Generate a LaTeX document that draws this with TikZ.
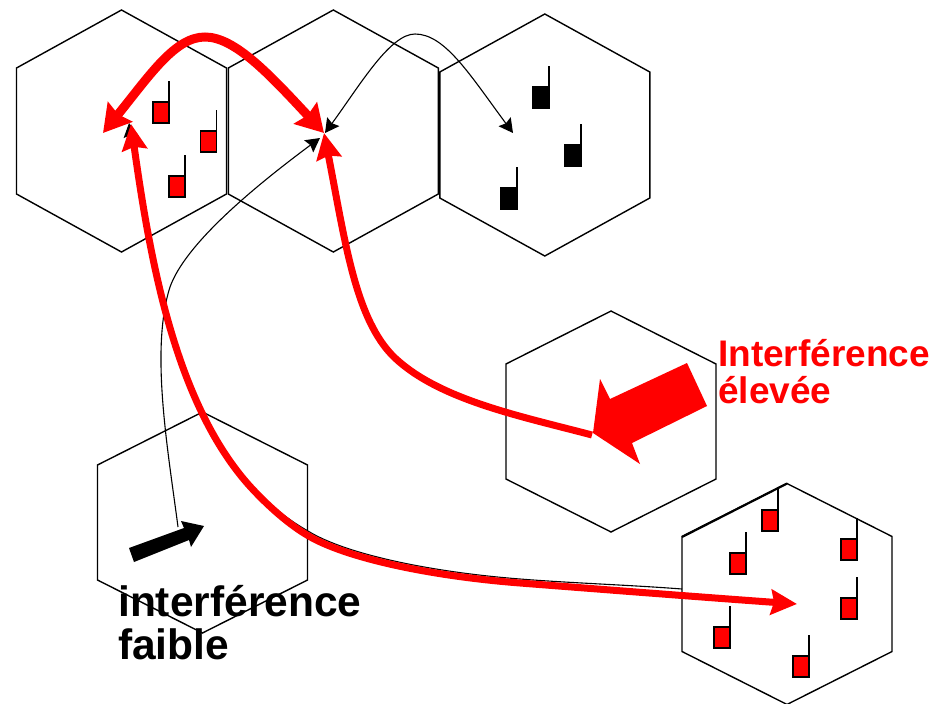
\documentclass[tikz,border=0pt]{standalone}
\usepackage{fontspec}
\setmainfont{Liberation Sans}
\usetikzlibrary{arrows.meta}
\tikzset{
  cell/.pic={\draw[line width=1.4pt,line join=miter] (0,-121) -- (105,-63) -- (105,63) -- (0,121) -- (-105,63) -- (-105,-63) -- cycle;},
  handset/.pic={\draw[line width=1.4pt,pic actions] (-16,0) rectangle (0,21); \draw[line width=1.4pt] (0,0) -- (0,-21);},
  thintip/.tip={Stealth[length=14pt,width=15pt,inset=2pt]},
  thinarrow/.style={line width=1.1pt},
  redline/.style={red,line width=7pt},
  bigtip/.tip={Stealth[length=27pt,width=31pt,inset=3pt]},
  tiptwo/.tip={Stealth[length=26pt,width=25pt,inset=3pt]},
  caption/.style={font=\bfseries\fontsize{37}{38}\selectfont,align=left,anchor=north west,inner sep=0pt}
}
\begin{document}
\begin{tikzpicture}[x=1pt,y=-1pt]
  \useasboundingbox (0,0) rectangle (935,704);
  % cells
  \foreach \x/\y in {121.5/131,333.3/131,544.8/135}
    \pic at (\x,\y) {cell};
  \foreach \x/\y in {611/421.5,202.5/522.5,787/594}
    \pic[yscale=.913] at (\x,\y) {cell};
  \draw[line width=2.2pt] (682,537) -- (787,483.5);
  % handsets
  \foreach \x/\y in {169/102,216.5/131,185/176,778/510,746/553,857/539,857/598,730/627,809/656}
    \pic[fill=red] at (\x,\y) {handset};
  \foreach \x/\y in {549/87,581/145,517/188}
    \pic[fill=black] at (\x,\y) {handset};
  % arrow ends
  \coordinate (leftend) at (103,133);
  \coordinate (midend) at (324,133);
  \coordinate (midthin) at (325,133);
  \coordinate (rightend) at (513,133);
  \coordinate (lowsrc) at (178,527);
  \coordinate (lowend) at (320,138);
  \coordinate (redend) at (131,124);
  \coordinate (blackend) at (129,123);
  \coordinate (mobile) at (797,604);
  \coordinate (edge) at (682,589);
  \coordinate (redsrc) at (592,435);
  % thin ones
  \draw[thinarrow,thintip-thintip] (midthin) .. controls (360,85) and (390,34) .. (415,34) .. controls (445,34) and (470,75) .. (rightend);
  \draw[thinarrow,-thintip] (lowsrc) .. controls (168,450) and (150,350) .. (170,287) .. controls (185,245) and (250,190) .. (lowend);
  \draw[thinarrow,-thintip] (edge) .. controls (630,585) and (570,583) .. (520,579) .. controls (430,572) and (345,554) .. (308,531) .. controls (285,518) and (265,501) .. (249,482) .. controls (177,399) and (150,260) .. (blackend);
  % red ones
  \draw[redline,bigtip-bigtip,line width=9pt] (leftend) .. controls (150,75) and (175,37) .. (205,37) .. controls (235,37) and (270,75) .. (midend);
  \draw[redline,-tiptwo] (redsrc) .. controls (520,416) and (440,400) .. (395,358) .. controls (355,320) and (345,240) .. (midend);
  \draw[redline,tiptwo-tiptwo] (redend) .. controls (150,260) and (175,400) .. (247,483) .. controls (262,500) and (285,522) .. (307,535) .. controls (345,558) and (430,576) .. (520,583) .. controls (610,590) and (700,597) .. (mobile);
  % big arrows
  \fill (129,548) -- (134,562) -- (189,540) -- (191,547) -- (204,526) -- (181,521) -- (184,528) -- cycle;
  \fill[red] (687,363) -- (707,406) -- (632,443) -- (640,464) -- (593,433) -- (600,379) -- (610,399) -- cycle;
  % labels
  \node[caption,red] (high) at (718,339) {Interférence\\[-1pt]élevée};
  \node[caption,font=\bfseries\fontsize{42.5}{43}\selectfont] (low) at (118,585) {interférence\\faible};
\end{tikzpicture}
\end{document}
